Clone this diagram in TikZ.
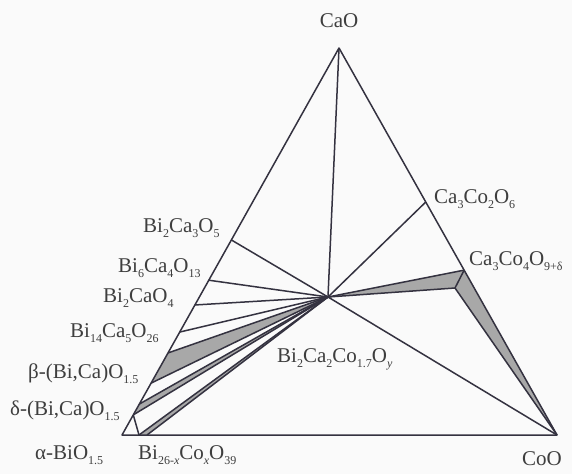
\documentclass[tikz,border=0pt]{standalone}
\usepackage{fontspec}
\setmainfont{Liberation Serif}
\usetikzlibrary{calc}
\definecolor{tieInk}{RGB}{52,50,64}
\definecolor{fieldGray}{RGB}{168,168,168}
\definecolor{labelInk}{RGB}{62,62,62}
\newcommand{\lsub}[1]{\raisebox{-0.6ex}{\fontsize{12}{12}\selectfont #1}}

\begin{document}
\begin{tikzpicture}[x=1pt, y=-1pt,
    tie/.style={draw=tieInk, line width=1.5pt, line join=round},
    field/.style={fill=fieldGray},
    phase/.style={font=\fontsize{21}{24}\selectfont, text=labelInk,
      inner sep=0pt, anchor=base west}
  ]
  \fill[black!2] (0,0) rectangle (572,474);
  \useasboundingbox (0,0) rectangle (572,474);

  % corners and the ternary phase
  \coordinate (cao) at (339,48);
  \coordinate (bio) at (122,435);
  \coordinate (coo) at (557,435);
  \coordinate (bcco) at (328,297);

  % Bi--Ca side
  \coordinate (p1) at ($(bio)!0.504!(cao)$);
  \coordinate (p2) at ($(bio)!0.400!(cao)$);
  \coordinate (p3) at ($(bio)!0.336!(cao)$);
  \coordinate (p4) at ($(bio)!0.266!(cao)$);
  \coordinate (p5) at ($(bio)!0.212!(cao)$);
  \coordinate (p6) at ($(bio)!0.134!(cao)$);
  \coordinate (p7) at ($(bio)!0.080!(cao)$);
  \coordinate (p8) at ($(bio)!0.052!(cao)$);
  % Bi--Co side
  \coordinate (b26a) at (139,435);
  \coordinate (b26b) at (147,435);
  % Ca--Co side
  \coordinate (q1) at ($(cao)!0.398!(coo)$);
  \coordinate (q2) at ($(cao)!0.574!(coo)$);
  \coordinate (q3) at (455,288);

  % two-phase fields
  \fill[field] (bcco) -- (p5) -- (p6) -- cycle;
  \fill[field] (bcco) -- (p7) -- (p8) -- cycle;
  \fill[field] (bcco) -- (b26a) -- (b26b) -- cycle;
  \fill[field] (bcco) -- (q2) -- (q3) -- cycle;
  \fill[field] (q2) -- (q3) -- (coo) -- cycle;

  % tie lines
  \draw[tie] (cao) -- (bio) -- (coo) -- cycle;
  \foreach \p in {cao,p1,p2,p3,p4,p5,p6,p7,p8,b26a,b26b,q1,q2,q3,coo}
    \draw[tie] (bcco) -- (\p);
  \draw[tie] (q2) -- (q3) -- (coo);
  \draw[tie] (b26a) -- (p8);

  % labels
  \node[phase, anchor=base] (lcao) at (339,27) {CaO};
  \node[phase] (lc32) at (434,203) {Ca\lsub{3}Co\lsub{2}O\lsub{6}};
  \node[phase] (lc34) at (469,265) {Ca\lsub{3}Co\lsub{4}O\lsub{9+δ}};
  \node[phase] (lb23) at (143,232) {Bi\lsub{2}Ca\lsub{3}O\lsub{5}};
  \node[phase] (lb64) at (118,272) {Bi\lsub{6}Ca\lsub{4}O\lsub{13}};
  \node[phase] (lb21) at (103,302) {Bi\lsub{2}CaO\lsub{4}};
  \node[phase] (lb145) at (70,337) {Bi\lsub{14}Ca\lsub{5}O\lsub{26}};
  \node[phase] (lbeta) at (28,378) {β-(Bi,Ca)O\lsub{1.5}};
  \node[phase] (ldelta) at (10,415) {δ-(Bi,Ca)O\lsub{1.5}};
  \node[phase] (lalpha) at (35,459) {α-BiO\lsub{1.5}};
  \node[phase] (lb26) at (138,459) {Bi\lsub{26-\emph{x}}Co\lsub{\emph{x}}O\lsub{39}};
  \node[phase] (lcoo) at (522,465) {CoO};
  \node[phase] (lbcco) at (277,362) {Bi\lsub{2}Ca\lsub{2}Co\lsub{1.7}O\lsub{\emph{y}}};
\end{tikzpicture}
\end{document}
